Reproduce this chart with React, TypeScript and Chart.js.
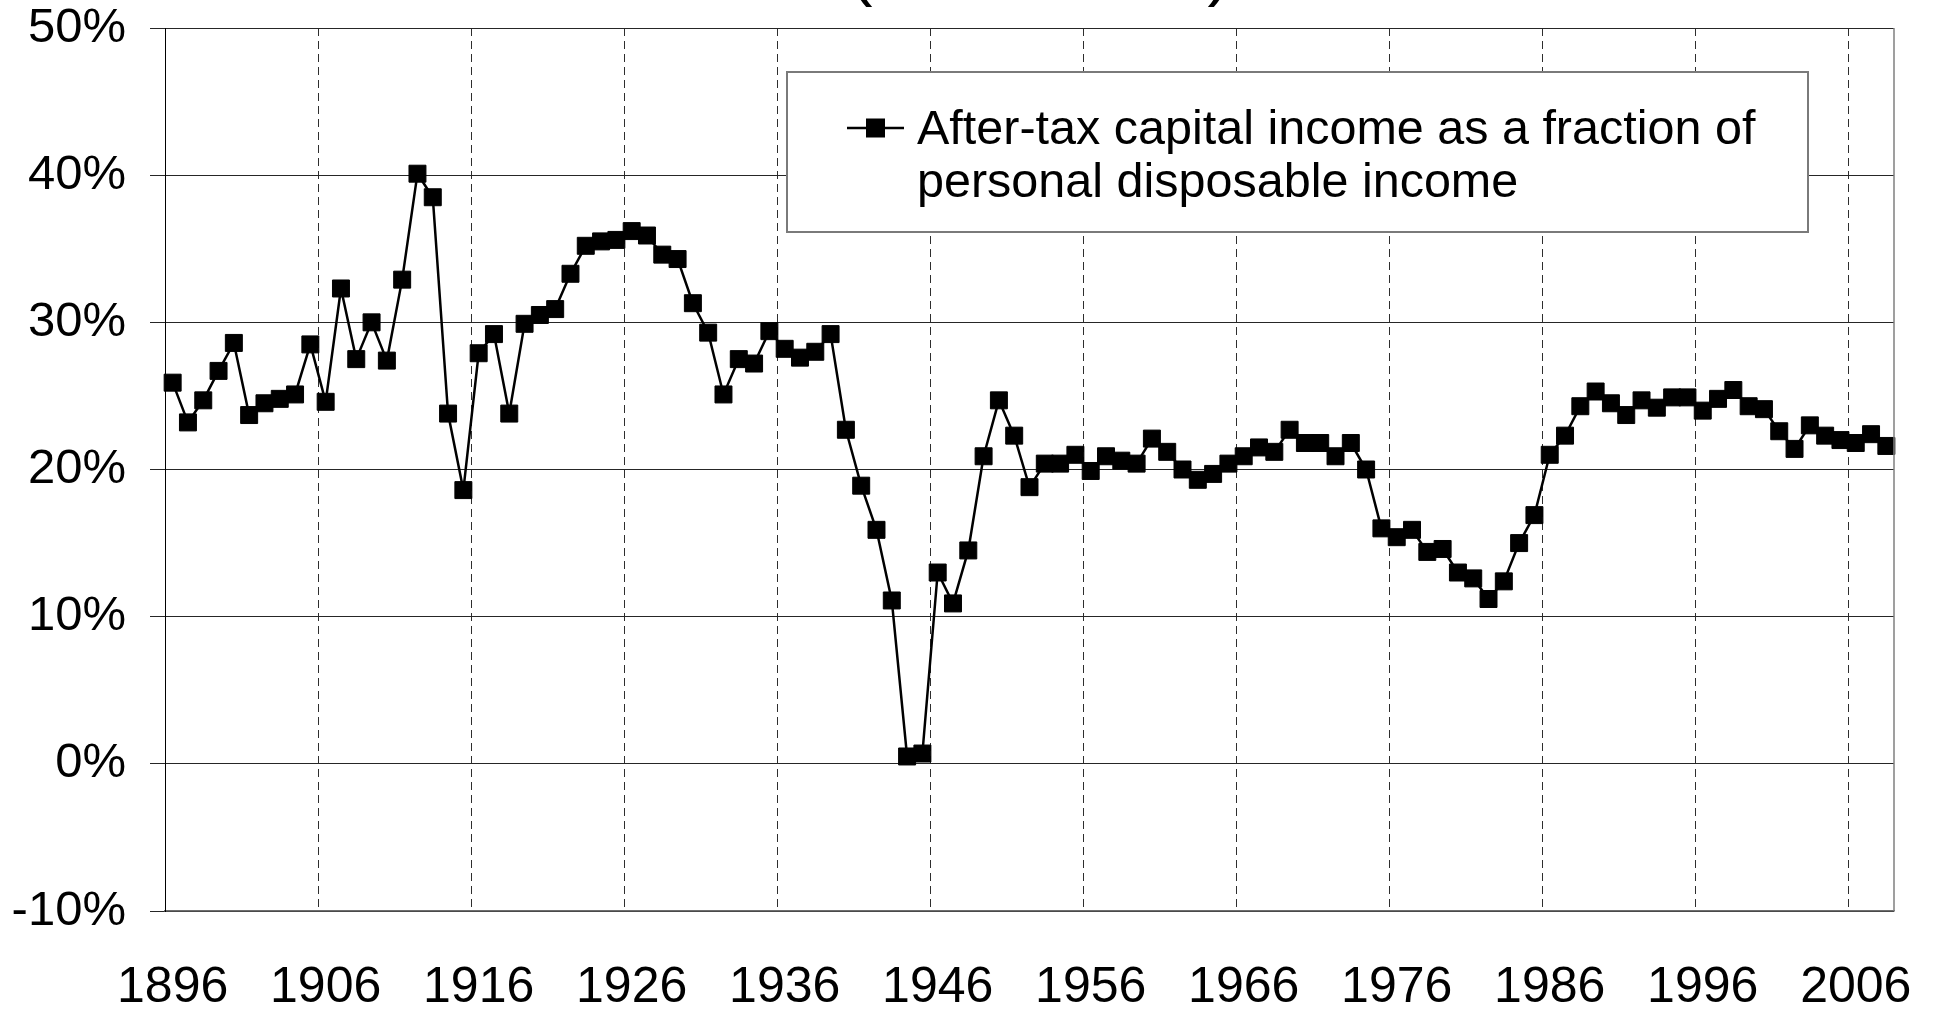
import React, { useEffect, useRef } from 'react';
import { Chart, registerables } from 'chart.js';

Chart.register(...registerables);

// ---------- data ----------
const YEARS = [
  '1896', '1897', '1898', '1899', '1900', '1901', '1902', '1903', '1904', '1905',
  '1906', '1907', '1908', '1909', '1910', '1911', '1912', '1913', '1914', '1915',
  '1916', '1917', '1918', '1919', '1920', '1921', '1922', '1923', '1924', '1925',
  '1926', '1927', '1928', '1929', '1930', '1931', '1932', '1933', '1934', '1935',
  '1936', '1937', '1938', '1939', '1940', '1941', '1942', '1943', '1944', '1945',
  '1946', '1947', '1948', '1949', '1950', '1951', '1952', '1953', '1954', '1955',
  '1956', '1957', '1958', '1959', '1960', '1961', '1962', '1963', '1964', '1965',
  '1966', '1967', '1968', '1969', '1970', '1971', '1972', '1973', '1974', '1975',
  '1976', '1977', '1978', '1979', '1980', '1981', '1982', '1983', '1984', '1985',
  '1986', '1987', '1988', '1989', '1990', '1991', '1992', '1993', '1994', '1995',
  '1996', '1997', '1998', '1999', '2000', '2001', '2002', '2003', '2004', '2005',
  '2006', '2007', '2008',
];

// After-tax capital income as % of personal disposable income
const CAPITAL_SHARE = [
  25.9, 23.2, 24.7, 26.7, 28.6, 23.7, 24.5, 24.8, 25.1, 28.5,
  24.6, 32.3, 27.5, 30.0, 27.4, 32.9, 40.1, 38.5, 23.8, 18.6,
  27.9, 29.2, 23.8, 29.9, 30.5, 30.9, 33.3, 35.2, 35.5, 35.6,
  36.2, 35.9, 34.6, 34.3, 31.3, 29.3, 25.1, 27.5, 27.2, 29.4,
  28.2, 27.6, 28.0, 29.2, 22.7, 18.9, 15.9, 11.1, 0.5, 0.7,
  13.0, 10.9, 14.5, 20.9, 24.7, 22.3, 18.8, 20.4, 20.4, 21.0,
  19.9, 20.9, 20.6, 20.4, 22.1, 21.2, 20.0, 19.3, 19.7, 20.4,
  20.9, 21.5, 21.2, 22.7, 21.8, 21.8, 20.9, 21.8, 20.0, 16.0,
  15.4, 15.9, 14.4, 14.6, 13.0, 12.6, 11.2, 12.4, 15.0, 16.9,
  21.0, 22.3, 24.3, 25.3, 24.5, 23.7, 24.7, 24.2, 24.9, 24.9,
  24.0, 24.8, 25.4, 24.3, 24.1, 22.6, 21.4, 23.0, 22.3, 22.0,
  21.8, 22.4, 21.6,
];

const Y_TICKS = [-10, 0, 10, 20, 30, 40, 50];
const X_LABEL_EVERY = 10;
const LEGEND_LINES = ['After-tax capital income as a fraction of', 'personal disposable income'];
const TITLE_TEXT = '(1896-2008)';

const FONT = '"Liberation Sans", Arial, Helvetica, sans-serif';

export default function App() {
  const canvasRef = useRef<HTMLCanvasElement | null>(null);

  useEffect(() => {
    const canvas = canvasRef.current;
    if (!canvas) return;

    const framePlugin = {
      id: 'frameAndLegend',
      afterDatasetsDraw(chart: any) {
        const { ctx, chartArea: a } = chart;
        ctx.save();
        // right border of plot area
        ctx.strokeStyle = '#7f7f7f';
        ctx.lineWidth = 1.5;
        ctx.beginPath();
        ctx.moveTo(a.right, a.top);
        ctx.lineTo(a.right, a.bottom);
        ctx.stroke();

        // legend box
        const bx = a.left + 622;
        const by = a.top + 44;
        const bw = 1021;
        const bh = 160;
        ctx.fillStyle = '#ffffff';
        ctx.fillRect(bx, by, bw, bh);
        ctx.strokeStyle = '#7a7a7a';
        ctx.lineWidth = 2;
        ctx.strokeRect(bx, by, bw, bh);

        // legend marker
        const my = by + 56;
        ctx.strokeStyle = '#000';
        ctx.lineWidth = 2.4;
        ctx.beginPath();
        ctx.moveTo(bx + 60, my);
        ctx.lineTo(bx + 117, my);
        ctx.stroke();
        ctx.fillStyle = '#000';
        ctx.fillRect(bx + 79, my - 9.5, 19, 19);

        // legend text
        ctx.font = `48.5px ${FONT}`;
        ctx.textAlign = 'left';
        ctx.textBaseline = 'alphabetic';
        ctx.fillStyle = '#000';
        ctx.fillText(LEGEND_LINES[0], bx + 130, by + 71.5);
        ctx.fillText(LEGEND_LINES[1], bx + 130, by + 125);
        ctx.restore();
      },
      afterDraw(chart: any) {
        const { ctx, chartArea: a } = chart;
        ctx.save();
        ctx.font = `70px ${FONT}`;
        ctx.textAlign = 'center';
        ctx.textBaseline = 'alphabetic';
        ctx.fillStyle = '#000';
        ctx.fillText(TITLE_TEXT, a.left + 875, -8);
        ctx.restore();
      },
    };

    const chart = new Chart(canvas, {
      type: 'line',
      data: {
        labels: YEARS,
        datasets: [
          {
            label: LEGEND_LINES.join(' '),
            data: CAPITAL_SHARE,
            borderColor: '#000000',
            backgroundColor: '#000000',
            borderWidth: 2.5,
            tension: 0,
            pointStyle: 'rect',
            pointRadius: 12,
            pointHoverRadius: 12,
            pointBorderWidth: 1,
            pointBackgroundColor: '#000000',
            pointBorderColor: '#000000',
          },
        ],
      },
      options: {
        animation: false,
        responsive: false,
        devicePixelRatio: 1,
        events: [],
        layout: { padding: { top: 28, right: 43, left: 0, bottom: 0 } },
        plugins: {
          legend: { display: false },
          title: { display: false },
          tooltip: { enabled: false },
        },
        scales: {
          x: {
            type: 'category',
            offset: true,
            grid: {
              offset: true,
              drawTicks: false,
              lineWidth: 1,
              color: (c: any) =>
                c.index > 0 && c.index % X_LABEL_EVERY === 0 && c.index < YEARS.length
                  ? '#2e2e2e'
                  : 'rgba(0,0,0,0)',
            },
            border: { display: true, color: '#6e6e6e', width: 1.5, dash: [8, 5] },
            ticks: {
              autoSkip: false,
              maxRotation: 0,
              minRotation: 0,
              padding: 47,
              color: '#000',
              font: { family: FONT, size: 50 },
              callback: (_v: any, i: number) => (i % X_LABEL_EVERY === 0 ? YEARS[i] : ''),
            },
            afterFit: (s: any) => {
              s.height = 101;
            },
          },
          y: {
            type: 'linear',
            min: -10,
            max: 50,
            afterBuildTicks: (s: any) => {
              s.ticks = Y_TICKS.map((v) => ({ value: v }));
            },
            grid: {
              color: '#262626',
              lineWidth: 1,
              drawTicks: true,
              tickLength: 15,
              tickColor: '#262626',
            },
            border: { display: true, color: '#000000', width: 1 },
            ticks: {
              padding: 24,
              color: '#000',
              font: { family: FONT, size: 49, lineHeight: 1 },
              callback: (v: any) => `${v}%`,
            },
            afterFit: (s: any) => {
              s.width = 165;
              s.paddingTop = 0;
              s.paddingBottom = 0;
            },
          },
        },
      },
      plugins: [framePlugin],
    });

    return () => {
      chart.destroy();
    };
  }, []);

  return (
    <div style={{ position: 'absolute', left: 0, top: 0, width: 1937, height: 1012, background: '#fff' }}>
      <canvas ref={canvasRef} width={1937} height={1012} style={{ display: 'block' }} />
    </div>
  );
}
